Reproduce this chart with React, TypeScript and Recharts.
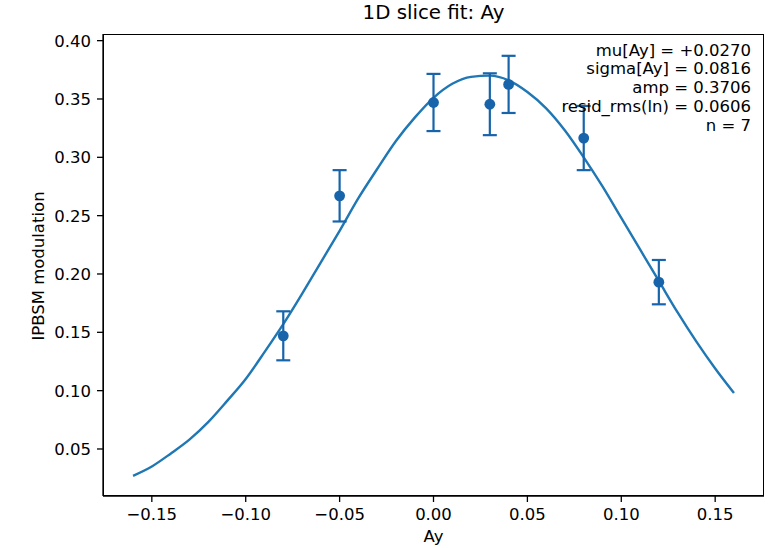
import React from "react";
import { ComposedChart, Line, Scatter, ErrorBar, XAxis, YAxis } from "recharts";

// fitted curve at 0.01 steps
const curveX = [
	-0.16, -0.15, -0.14, -0.13, -0.12, -0.11, -0.1, -0.09, -0.08, -0.07, -0.06, -0.05, -0.04, -0.03, -0.02, -0.01, 0,
	0.01, 0.02, 0.03, 0.04, 0.05, 0.06, 0.07, 0.08, 0.09, 0.1, 0.11, 0.12, 0.13, 0.14, 0.15, 0.16,
];
const curveY = [
	0.027, 0.035, 0.046, 0.058, 0.073, 0.091, 0.11, 0.133, 0.157, 0.183, 0.21, 0.237, 0.265, 0.29, 0.314, 0.334, 0.351,
	0.363, 0.369, 0.37, 0.366, 0.356, 0.342, 0.323, 0.3, 0.275, 0.248, 0.221, 0.194, 0.167, 0.142, 0.119, 0.098,
];

// measured points
const pointX = [-0.08, -0.05, 0, 0.03, 0.04, 0.08, 0.12];
const pointY = [0.147, 0.267, 0.347, 0.3455, 0.3625, 0.3165, 0.193];
const pointErr = [0.021, 0.022, 0.0245, 0.0265, 0.0245, 0.0275, 0.019];

const xTicks = [-0.15, -0.1, -0.05, 0, 0.05, 0.1, 0.15];
const yTicks = [0.05, 0.1, 0.15, 0.2, 0.25, 0.3, 0.35, 0.4];

const fitText = ["mu[Ay] = +0.0270", "sigma[Ay] = 0.0816", "amp = 0.3706", "resid_rms(ln) = 0.0606", "n = 7"];

const curve = curveX.map((x, i) => ({ x, y: curveY[i] }));
const points = pointX.map((x, i) => ({ x, y: pointY[i], err: pointErr[i] }));

const fmt = (v: number) => v.toFixed(2).replace("-", "\u2212");

const font = "'DejaVu Sans', sans-serif";
const tickStyle = { fontSize: 16.5, fill: "#000", fontFamily: font };

const Dot = (props: any) => <circle cx={props.cx} cy={props.cy} r={5.4} fill="#1764ab" />;

export default function App() {
	return (
		<div style={{ position: "absolute", left: 0, top: 0, width: 768, height: 548, background: "#fff", fontFamily: font }}>
			<ComposedChart width={768} height={548} margin={{ top: 34, right: 4, left: 0, bottom: 0 }}>
				<XAxis
					type="number"
					dataKey="x"
					domain={[-0.176, 0.176]}
					ticks={xTicks}
					tickFormatter={fmt}
					height={52}
					tickSize={6}
					tickMargin={6.5}
					stroke="#000"
					strokeWidth={1.3}
					tick={tickStyle}
					allowDataOverflow
				/>
				<YAxis
					type="number"
					domain={[0.0097, 0.4057]}
					ticks={yTicks}
					tickFormatter={fmt}
					width={103}
					tickSize={6}
					tickMargin={6}
					stroke="#000"
					strokeWidth={1.3}
					tick={tickStyle}
					allowDataOverflow
				/>
				<Line data={curve} dataKey="y" type="monotone" stroke="#1f77b4" strokeWidth={2.4} dot={false} isAnimationActive={false} />
				<Scatter data={points} dataKey="y" shape={Dot} isAnimationActive={false}>
					<ErrorBar dataKey="err" direction="y" width={7} stroke="#1764ab" strokeWidth={2.2} />
				</Scatter>
			</ComposedChart>
			{/* frame round the plot area */}
			<div style={{ position: "absolute", left: 103, top: 34, width: 661, height: 462, boxSizing: "border-box", border: "1.3px solid #000", pointerEvents: "none" }} />
			<div style={{ position: "absolute", left: 103, width: 661, top: 1, textAlign: "center", fontSize: 19.8, lineHeight: "24px" }}>
				1D slice fit: Ay
			</div>
			<div style={{ position: "absolute", right: 17, top: 41.6, textAlign: "right", fontSize: 16.5, lineHeight: "18.8px", whiteSpace: "pre" }}>
				{fitText.map((t) => (
					<div key={t}>{t}</div>
				))}
			</div>
			<div style={{ position: "absolute", left: 103, width: 661, top: 527, textAlign: "center", fontSize: 16.5, lineHeight: "20px" }}>
				Ay
			</div>
			<div
				style={{
					position: "absolute",
					left: 39 - 100,
					top: 266 - 10,
					width: 200,
					textAlign: "center",
					fontSize: 16.5,
					lineHeight: "20px",
					transform: "rotate(-90deg)",
				}}
			>
				IPBSM modulation
			</div>
		</div>
	);
}
